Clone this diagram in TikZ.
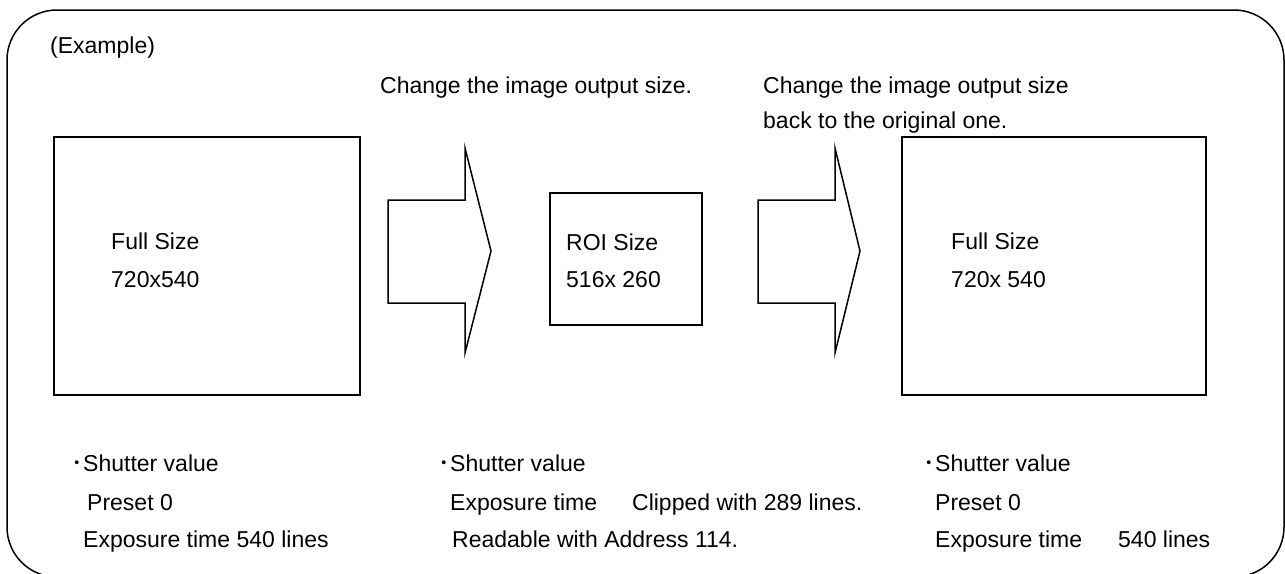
\documentclass[tikz,border=0pt]{standalone}
\usepackage{fontspec}
\setmainfont{Liberation Sans}
\newfontfamily\cjk{Noto Sans CJK JP}
\begin{document}
\begin{tikzpicture}[x=1pt, y=-1pt,
	every node/.style={inner sep=0pt, anchor=base west, font=\fontsize{23}{28}\selectfont},
	imgbox/.style={draw, line width=1.5pt, anchor=north west},
	blockarrow/.style={draw, line width=1.5pt}]
	\useasboundingbox (0,0) rectangle (1285,573);
	\clip (0,0) rectangle (1285,573);
	\draw[line width=1.5pt, rounded corners=50pt] (7,10) rectangle (1284,577);
	\node (ex) at (50,53) {(Example)};
	\node (chg1) at (380,93) {Change the image output size.};
	\node (chg2) at (763,93) {Change the image output size};
	\node (chg3) at (763,128) {back to the original one.};
%	images
	\node[imgbox, minimum width=306pt, minimum height=258pt] (full1) at (53,136) {};
	\node[imgbox, minimum width=152pt, minimum height=132pt] (roi) at (549,192) {};
	\node[imgbox, minimum width=304pt, minimum height=258pt] (full2) at (901,136) {};
	\node (f1a) at (111,249) {Full Size};
	\node (f1b) at (111,287) {720x540};
	\node (ra) at (566,250) {ROI Size};
	\node (rb) at (566,287) {516x 260};
	\node (f2a) at (951,249) {Full Size};
	\node (f2b) at (951,287) {720x 540};
%	arrows
	\foreach \ax/\tx in {388/491, 758/860}
		\draw[blockarrow] (\ax,200) -- (\ax+77,200) -- (\ax+77,148) -- (\tx,251)
			-- (\ax+77,353) -- (\ax+77,303) -- (\ax,303) -- cycle;
%	shutter values
	\node (s1) at (83,471) {\llap{\cjk{･}}Shutter value};
	\node (s1a) at (87,510) {Preset 0};
	\node (s1b) at (83,547) {Exposure time 540 lines};
	\node (s2) at (450,471) {\llap{\cjk{･}}Shutter value};
	\node (s2a) at (450,510) {Exposure time\hspace{35pt}Clipped with 289 lines.};
	\node (s2b) at (452,547) {Readable with Address 114.};
	\node (s3) at (935,471) {\llap{\cjk{･}}Shutter value};
	\node (s3a) at (935,510) {Preset 0};
	\node (s3b) at (935,547) {Exposure time\hspace{36pt}540 lines};
\end{tikzpicture}
\end{document}
